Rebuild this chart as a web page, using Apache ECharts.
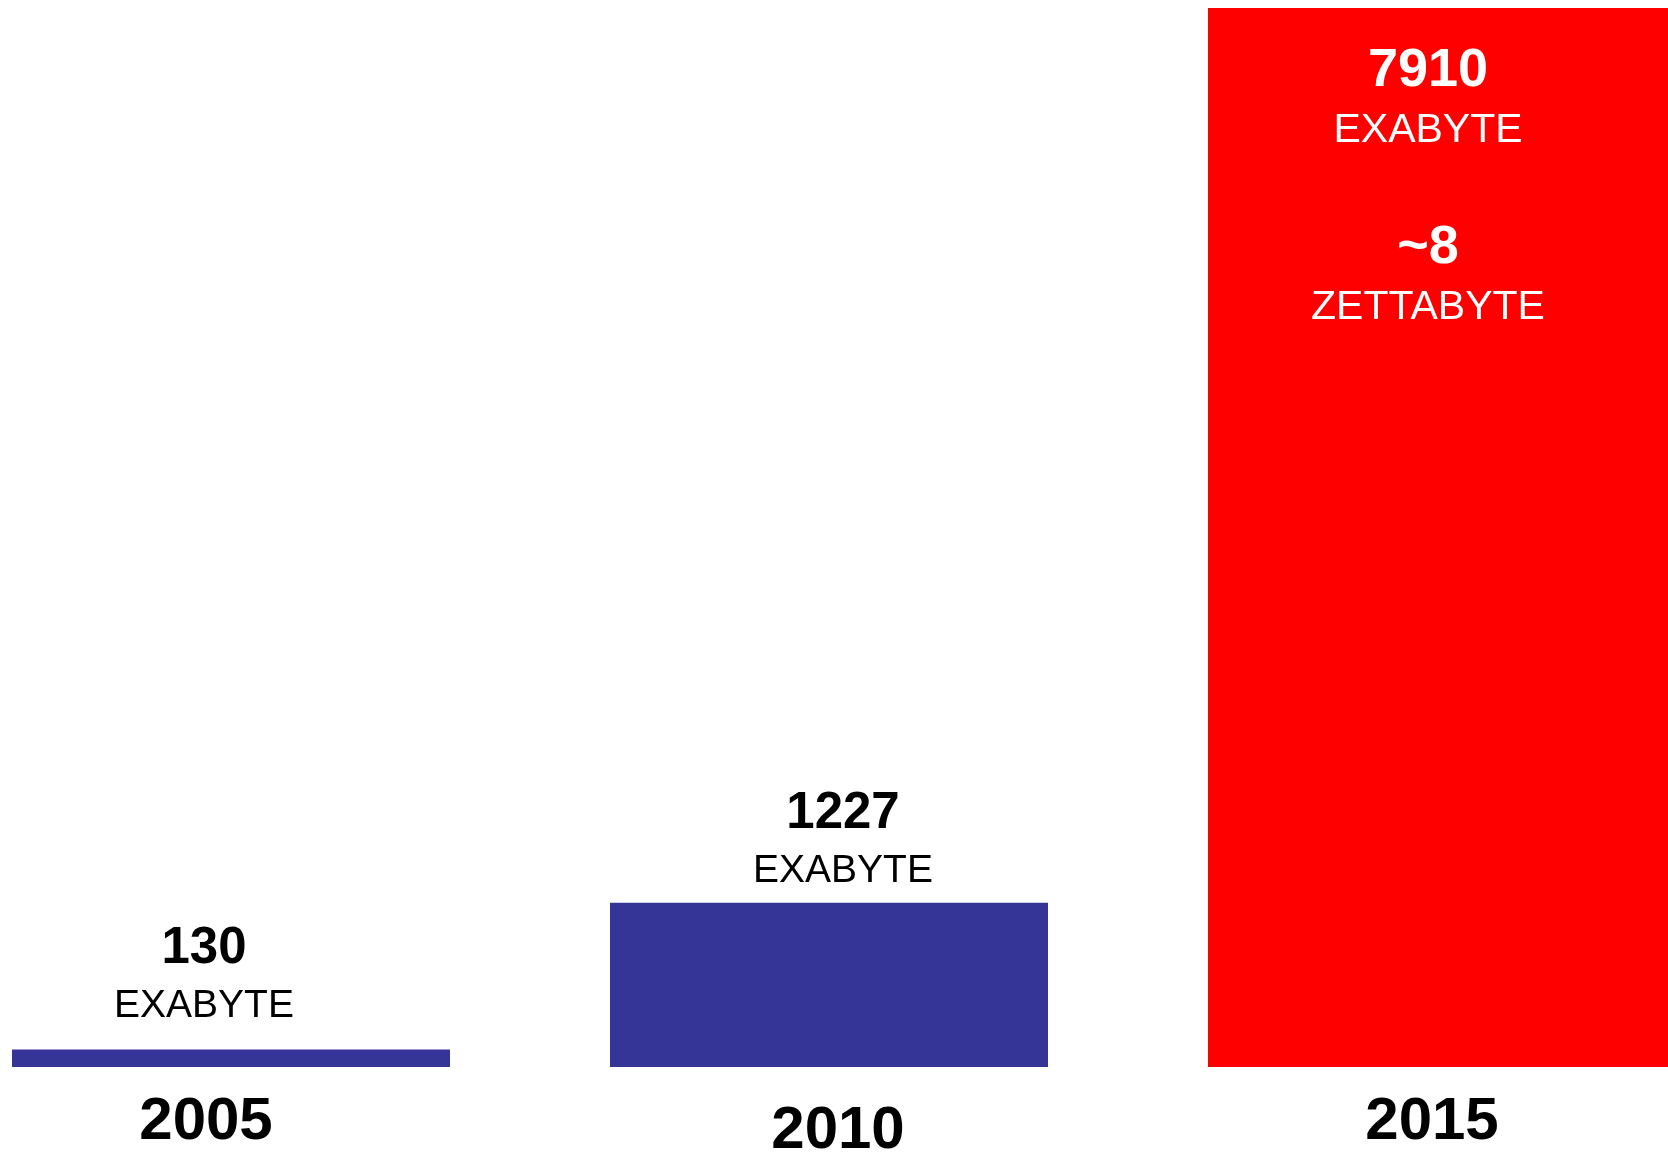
<!DOCTYPE html>
<html>
<head>
<meta charset="utf-8">
<script src="https://cdn.jsdelivr.net/npm/echarts@6/dist/echarts.min.js"></script>
<style>
html,body{margin:0;padding:0;background:#fff;overflow:hidden;width:1668px;height:1152px;}
#chart{position:absolute;left:-56px;top:0;width:1794px;height:1152px;}
</style>
</head>
<body>
<div id="chart"></div>
<script>
// ---- data ----
const years = ['2005', '2010', '2015'];
const exabytes = [130, 1227, 7910];
const unitName = 'EXABYTE';
const projected = [false, false, true];
const zettaValue = '~8';
const zettaUnit = 'ZETTABYTE';

// ---- styles ----
const FONT = '"Liberation Sans", Arial, sans-serif';
const BLUE = '#353598';
const RED = '#ff0000';
const labelShiftX = [-27, 14, -11];
const labelDist = [14, 2];
const yearPad = [[0, 74, 0, 0], [9, 6, 0, 0], [0, 14, 0, 0]];

const blueData = exabytes.map((v, i) => projected[i] ? '-' : {
  value: v,
  label: { offset: [labelShiftX[i], 0], distance: labelDist[i] }
});
const redData = exabytes.map((v, i) => projected[i] ? {
  value: v,
  label: { offset: [labelShiftX[i], 0] }
} : '-');

const chart = echarts.init(document.getElementById('chart'), null, { renderer: 'canvas' });
chart.setOption({
  animation: false,
  backgroundColor: '#ffffff',
  grid: { left: 0, right: 0, top: 8, bottom: 85, containLabel: false, outerBoundsMode: 'none' },
  xAxis: {
    type: 'category',
    data: years.map((y, i) => ({ value: y, textStyle: { padding: yearPad[i] } })),
    axisLine: { show: false },
    axisTick: { show: false },
    axisLabel: {
      color: '#000', fontFamily: FONT, fontWeight: 'bold', fontSize: 60,
      margin: 25, interval: 0
    }
  },
  yAxis: {
    type: 'value', min: 0, max: Math.max(...exabytes),
    show: false, splitLine: { show: false }
  },
  series: [
    {
      type: 'bar',
      data: blueData,
      barWidth: 438,
      barGap: '-100%',
      itemStyle: { color: BLUE },
      label: {
        show: true, position: 'top',
        formatter: p => '{n|' + p.value + '}\n{u|' + unitName + '}',
        rich: {
          n: { fontFamily: FONT, fontWeight: 'bold', fontSize: 51, lineHeight: 58, color: '#000' },
          u: { fontFamily: FONT, fontSize: 39, lineHeight: 58, color: '#000' }
        }
      }
    },
    {
      type: 'bar',
      data: redData,
      barWidth: 462,
      barGap: '-100%',
      itemStyle: { color: RED },
      label: {
        show: true, position: 'insideTop', distance: 34, lineHeight: 59,
        formatter: p => '{n|' + p.value + '}\n{u|' + unitName + '}\n{e| }\n{n|' + zettaValue + '}\n{u|' + zettaUnit + '}',
        rich: {
          n: { fontFamily: FONT, fontWeight: 'bold', fontSize: 54, lineHeight: 59, color: '#fff' },
          u: { fontFamily: FONT, fontSize: 41, lineHeight: 59, color: '#fff' },
          e: { fontSize: 20, lineHeight: 59 }
        }
      }
    }
  ]
});
</script>
</body>
</html>
